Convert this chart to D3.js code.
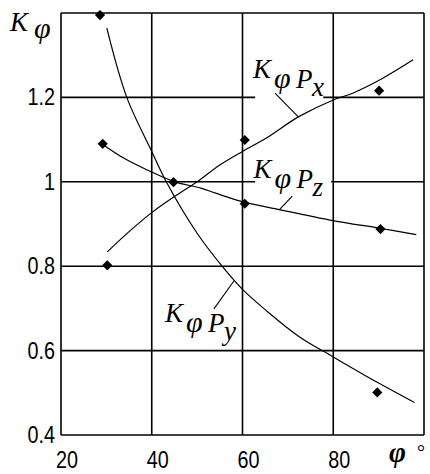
<!DOCTYPE html>
<html>
<head>
<meta charset="utf-8">
<script src="https://cdn.jsdelivr.net/npm/d3@7"></script>
<style>
  html, body { margin: 0; padding: 0; background: #fff; }
  svg { display: block; }
</style>
</head>
<body>
<svg id="chart" width="430" height="474"></svg>
<script>
// Angle φ (degrees) grid and coefficient grid
const xTicks = [20, 40, 60, 80];
const xTickLabels = ["20", "40", "60", "80"];
const yTicks = [0.4, 0.6, 0.8, 1.0, 1.2];
const yTickLabels = ["0.4", "0.6", "0.8", "1", "1.2"];

// Fitted curves K_φ(φ) for each force component
const curvePx = [[30.2, 0.834], [35, 0.882], [40, 0.927], [45, 0.965], [50, 1.0], [55, 1.04],
                 [60, 1.072], [65, 1.102], [72.5, 1.155], [80, 1.194], [84.3, 1.21],
                 [90.2, 1.241], [97.6, 1.289]];
const curvePz = [[29.3, 1.088], [34, 1.055], [39, 1.028], [44.8, 1.001], [50.8, 0.985],
                 [54.1, 0.973], [60, 0.953], [68.1, 0.934], [79.9, 0.908], [90.2, 0.89],
                 [98.3, 0.875]];
const curvePy = [[30.1, 1.364], [34.5, 1.2], [40, 1.072], [43.2, 1.0], [50, 0.878],
                 [55.5, 0.8], [60, 0.745], [65, 0.697], [72.5, 0.633], [80, 0.585],
                 [89.5, 0.526], [97.9, 0.477]];

// Measured points
const pointsPx = [[30.2, 0.802], [60.5, 1.099], [90.1, 1.216]];
const pointsPz = [[29.2, 1.09], [44.8, 0.999], [60.5, 0.948], [90.4, 0.888]];
const pointsPy = [[28.6, 1.395], [89.7, 0.501]];

// Curve labels: subscript letter, anchor in data units, leader line in data units
const labelNames = ["x", "z", "y"];
const labelAnchors = [[62.3, 1.246], [62.4, 1.008], [42.9, 0.668]];
const leaderLines = [
  [[67.16, 1.21], [72.3, 1.154]],
  [[70.97, 0.966], [68.04, 0.933]],
  [[53.7, 0.699], [58.1, 0.765]]
];

const svg = d3.select("#chart");
svg.append("rect").attr("width", 430).attr("height", 474).attr("fill", "#fff");

const x = d3.scaleLinear().domain([20, 100]).range([61, 424]);
const y = d3.scaleLinear().domain([0.4, 1.4]).range([435, 13]);

const serif = "'Liberation Serif', 'Times New Roman', serif";
const sans = "'Liberation Sans', Arial, sans-serif";

// Grid and frame
const grid = svg.append("g").attr("stroke", "#000").attr("stroke-width", 1.6);
[...xTicks, 100].forEach(v => {
  grid.append("line").attr("x1", x(v)).attr("x2", x(v))
    .attr("y1", y(1.4)).attr("y2", y(0.4));
});
[...yTicks, 1.4].forEach(v => {
  grid.append("line").attr("x1", x(20)).attr("x2", x(100))
    .attr("y1", y(v)).attr("y2", y(v));
});

// White boxes behind the two labels that sit on grid lines
const masks = [[x(62.8), y(1.28), 68, 36], [x(62.8), y(1.06), 76, 32]];
masks.forEach(m => {
  svg.append("rect").attr("x", m[0]).attr("y", m[1]).attr("width", m[2]).attr("height", m[3])
    .attr("fill", "#fff");
});

// Tick labels (narrow sans digits)
svg.append("g").selectAll("text").data(yTicks).join("text")
  .attr("transform", d => `translate(55,${y(d) + 8}) scale(0.86,1)`)
  .attr("text-anchor", "end")
  .attr("font-family", sans).attr("font-size", 23)
  .text((d, i) => yTickLabels[i]);

svg.append("g").selectAll("text").data(xTicks).join("text")
  .attr("transform", d => `translate(${x(d) + 6},468) scale(0.86,1)`)
  .attr("text-anchor", "middle")
  .attr("font-family", sans).attr("font-size", 23)
  .text((d, i) => xTickLabels[i]);

// Curves
const line = d3.line().x(d => x(d[0])).y(d => y(d[1])).curve(d3.curveCatmullRom);
[curvePx, curvePz, curvePy].forEach(c => {
  svg.append("path").attr("d", line(c)).attr("fill", "none")
    .attr("stroke", "#000").attr("stroke-width", 1.2);
});

// Leader lines
leaderLines.forEach(l => {
  svg.append("line").attr("x1", x(l[0][0])).attr("y1", y(l[0][1]))
    .attr("x2", x(l[1][0])).attr("y2", y(l[1][1]))
    .attr("stroke", "#000").attr("stroke-width", 1.1);
});

// Markers
const diamond = d3.symbol().type(d3.symbolSquare).size(52);
[...pointsPx, ...pointsPz, ...pointsPy].forEach(p => {
  svg.append("path").attr("d", diamond())
    .attr("transform", `translate(${x(p[0])},${y(p[1])}) rotate(45)`)
    .attr("fill", "#000");
});

// Curve labels K φ P with subscript
labelAnchors.forEach((a, i) => {
  const ax = x(a[0]), ay = y(a[1]);
  const g = svg.append("g").attr("font-family", serif).attr("font-style", "italic");
  g.append("text").attr("x", ax).attr("y", ay).attr("font-size", 27).text("K");
  g.append("text").attr("x", ax + 21).attr("y", ay + 10).attr("font-size", 30).text("φ");
  g.append("text").attr("x", ax + 43).attr("y", ay + 10).attr("font-size", 27).text("P");
  g.append("text").attr("x", ax + 59).attr("y", ay + 18).attr("font-size", 27).text(labelNames[i]);
});

// Axis titles
const yTitle = svg.append("g").attr("font-family", serif).attr("font-style", "italic");
yTitle.append("text").attr("x", 10).attr("y", 31).attr("font-size", 27).text("K");
yTitle.append("text").attr("x", 34).attr("y", 38).attr("font-size", 30).text("φ");

const xTitle = svg.append("g").attr("font-family", serif);
xTitle.append("text").attr("x", 389).attr("y", 462).attr("font-size", 29)
  .attr("font-style", "italic").attr("font-weight", "bold").text("φ");
xTitle.append("text").attr("x", 417).attr("y", 459).attr("font-size", 20).text("°");
</script>
</body>
</html>
